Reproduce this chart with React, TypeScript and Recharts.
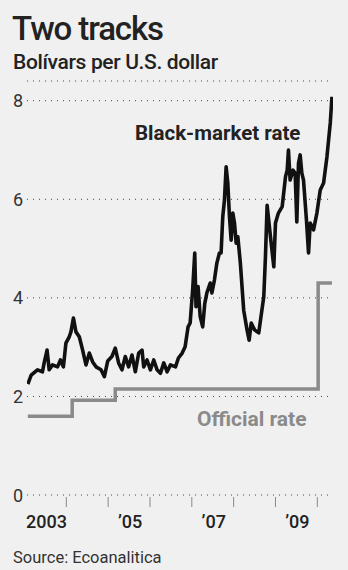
import React from 'react'
import { LineChart, Line, XAxis, YAxis, CartesianGrid } from 'recharts'

// black-market rate (year as decimal)
const blackYears = [
  2003.08, 2003.16, 2003.31, 2003.43, 2003.47, 2003.54, 2003.59, 2003.67, 2003.79, 2003.86,
  2003.93, 2003.99, 2004.07, 2004.11, 2004.17, 2004.23, 2004.31, 2004.39, 2004.47, 2004.55,
  2004.63, 2004.71, 2004.83, 2004.91, 2004.99, 2005.09, 2005.17, 2005.25, 2005.33, 2005.41,
  2005.49, 2005.57, 2005.65, 2005.73, 2005.81, 2005.85, 2005.93, 2006.01, 2006.09, 2006.17,
  2006.25, 2006.33, 2006.41, 2006.49, 2006.61, 2006.68, 2006.77, 2006.84, 2006.91, 2006.96,
  2007.02, 2007.07, 2007.10, 2007.15, 2007.20, 2007.26, 2007.31, 2007.36, 2007.44, 2007.48,
  2007.54, 2007.60, 2007.66, 2007.70, 2007.74, 2007.78, 2007.82, 2007.86, 2007.90, 2007.94,
  2007.98, 2008.02, 2008.06, 2008.10, 2008.16, 2008.24, 2008.32, 2008.37, 2008.42, 2008.50,
  2008.60, 2008.72, 2008.76, 2008.80, 2008.88, 2008.96, 2009.00, 2009.07, 2009.16, 2009.24,
  2009.28, 2009.31, 2009.35, 2009.42, 2009.47, 2009.51, 2009.55, 2009.59, 2009.63, 2009.67,
  2009.74, 2009.79, 2009.83, 2009.91, 2009.99, 2010.07, 2010.15, 2010.23, 2010.31, 2010.35,
]
const blackRates = [
  2.25, 2.43, 2.54, 2.5, 2.68, 2.94, 2.54, 2.64, 2.6, 2.74,
  2.6, 3.08, 3.21, 3.31, 3.59, 3.31, 3.21, 2.94, 2.64, 2.88,
  2.7, 2.6, 2.54, 2.4, 2.72, 2.81, 2.98, 2.68, 2.54, 2.81,
  2.6, 2.84, 2.5, 2.88, 2.94, 2.6, 2.74, 2.54, 2.74, 2.54,
  2.47, 2.68, 2.5, 2.64, 2.6, 2.78, 2.88, 3.01, 3.41, 3.49,
  4.16, 4.91, 3.82, 4.23, 3.62, 3.41, 3.89, 4.1, 4.3, 4.1,
  4.36, 4.71, 4.91, 4.91, 5.65, 5.98, 6.66, 6.33, 5.65, 5.17,
  5.72, 5.52, 5.11, 5.24, 4.71, 3.75, 3.35, 3.14, 3.49, 3.35,
  3.29, 4.02, 4.83, 5.88, 5.24, 4.63, 5.52, 5.72, 5.85, 6.46,
  6.59, 7.0, 6.39, 6.59, 6.53, 5.54, 6.73, 6.9, 6.53, 6.39,
  5.58, 4.91, 5.52, 5.38, 5.72, 6.19, 6.33, 6.86, 7.55, 8.08,
]

// official rate, changes at each devaluation
const officialYears = [2003.08, 2004.14, 2005.17, 2010.02, 2010.35]
const officialRates = [1.6, 1.92, 2.15, 4.3, 4.3]

const yTicks = [0, 2, 4, 6, 8]
const yearTicks = [2004, 2005, 2006, 2007, 2008, 2009, 2010]
const labelTicks = [2003.5, 2005.5, 2007.5, 2009.5]
const labelText = ['2003', '\u201905', '\u201907', '\u201909']

const blackData = blackYears.map((t, i) => ({ t, v: blackRates[i] }))
const officialData = officialYears.map((t, i) => ({ t, v: officialRates[i] }))

const font = 'Roboto, "Noto Sans", sans-serif'
const xDomain = [2003.06, 2010.375]

function YTick({ y, payload }: any) {
  return (
    <text x={13} y={y + 6.5} fontSize={18} fill="#333" fontFamily={font}>
      {payload.value}
    </text>
  )
}

function YearMark({ x, y }: any) {
  return <line x1={x} x2={x} y1={y + 2} y2={y + 12} stroke="#888" strokeWidth={1} />
}

function YearLabel({ x, y, payload }: any) {
  const i = labelTicks.indexOf(payload.value)
  return (
    <text x={x + 1} y={y + 19} textAnchor="middle" fontSize={18} fontWeight={500} fill="#222" fontFamily={font}>
      {labelText[i]}
    </text>
  )
}

export default function App() {
  return (
    <div style={{ position: 'absolute', left: 0, top: 0, width: 348, height: 570, background: '#f0f0f0', fontFamily: font, overflow: 'hidden' }}>
      <div style={{ position: 'absolute', left: 12, top: 12, fontSize: 33, lineHeight: 1, fontWeight: 500, color: '#222', letterSpacing: -1.1, whiteSpace: 'nowrap' }}>
        Two tracks
      </div>
      <div style={{ position: 'absolute', left: 13, top: 52, fontSize: 21, lineHeight: 1, fontWeight: 500, color: '#222', letterSpacing: -0.35, whiteSpace: 'nowrap' }}>
        Bolívars per U.S. dollar
      </div>
      <LineChart width={348} height={570} margin={{ top: 81, right: 15, bottom: 35, left: 0 }}>
        <CartesianGrid vertical={false} stroke="#444" strokeDasharray="1 5" />
        <YAxis type="number" domain={[0, 8.4]} ticks={yTicks} width={27} axisLine={false} tickLine={false} tick={<YTick />} />
        <XAxis xAxisId={0} dataKey="t" type="number" domain={xDomain} ticks={yearTicks} allowDataOverflow height={14} axisLine={false} tickLine={false} tickSize={0} tickMargin={0} tick={<YearMark />} />
        <XAxis xAxisId="lbl" dataKey="t" type="number" domain={xDomain} ticks={labelTicks} allowDataOverflow height={26} axisLine={false} tickLine={false} tickSize={0} tickMargin={0} tick={<YearLabel />} />
        <Line data={officialData} dataKey="v" type="stepAfter" stroke="#8a8a8a" strokeWidth={3.5} dot={false} isAnimationActive={false} />
        <Line data={blackData} dataKey="v" type="linear" stroke="#111" strokeWidth={3.6} strokeLinejoin="round" dot={false} isAnimationActive={false} />
      </LineChart>
      <div style={{ position: 'absolute', left: 135, top: 123, fontSize: 20.5, lineHeight: 1, fontWeight: 700, color: '#222', letterSpacing: 0, whiteSpace: 'nowrap' }}>
        Black-market rate
      </div>
      <div style={{ position: 'absolute', left: 197, top: 409, fontSize: 21, lineHeight: 1, fontWeight: 700, color: '#8a8a8a', letterSpacing: 0, whiteSpace: 'nowrap' }}>
        Official rate
      </div>
      <div style={{ position: 'absolute', left: 13, top: 550, fontSize: 16.5, lineHeight: 1, color: '#333', letterSpacing: 0, whiteSpace: 'nowrap' }}>
        Source: Ecoanalitica
      </div>
    </div>
  )
}
